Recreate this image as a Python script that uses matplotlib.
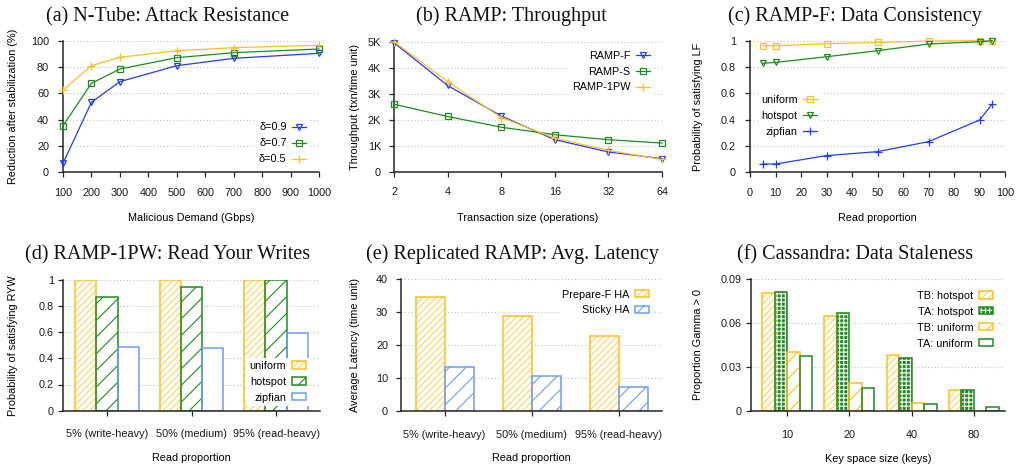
import matplotlib
matplotlib.use("Agg")
import matplotlib.pyplot as plt
from matplotlib.legend_handler import HandlerTuple

plt.rcParams['font.family'] = ['Liberation Sans', 'DejaVu Sans']
plt.rcParams['hatch.linewidth'] = 0.8

W, H = 1022, 468
TITLE_FONT = ['Liberation Serif', 'DejaVu Serif']
FS = 7.8
TFS = 14.5

BLUE = '#1f3cff'
GREEN = '#1e8c1e'
YELLOW = '#ffbf1f'
LYELLOW = '#ffd35c'
LBLUE = '#6f9ef0'
SPINE = '#262626'
GRID = '#c4c4c4'

# ---------------- data ----------------
# (a) N-Tube
a_x = [100, 200, 300, 500, 700, 1000]
a_d09 = [6.8, 53.2, 68.9, 81.0, 86.6, 90.4]
a_d07 = [35.4, 67.6, 78.5, 87.1, 90.9, 93.7]
a_d05 = [62.5, 81.0, 87.4, 92.4, 94.7, 96.5]

# (b) RAMP throughput
b_x = [2, 4, 8, 16, 32, 64]
b_rampf = [4960, 3320, 2150, 1240, 770, 510]
b_ramps = [2600, 2130, 1720, 1430, 1240, 1110]
b_ramp1pw = [5000, 3470, 2090, 1300, 830, 480]

# (c) RAMP-F data consistency
c_x = [5, 10, 30, 50, 70, 90, 95]
c_uniform = [0.962, 0.962, 0.977, 0.987, 0.997, 1.0, 1.0]
c_hotspot = [0.828, 0.835, 0.878, 0.924, 0.975, 0.992, 1.0]
c_zipfian = [0.063, 0.063, 0.127, 0.157, 0.233, 0.397, 0.519]

# (d) RAMP-1PW read your writes
rw_cats = ['5% (write-heavy)', '50% (medium)', '95% (read-heavy)']
d_uniform = [0.995, 0.995, 1.0]
d_hotspot = [0.865, 0.941, 1.0]
d_zipfian = [0.483, 0.478, 0.590]

# (e) Replicated RAMP latency
e_preparef = [34.4, 28.9, 22.8]
e_sticky = [13.4, 10.6, 7.4]

# (f) Cassandra staleness
f_cats = ['10', '20', '40', '80']
f_tb_hot = [0.0807, 0.0645, 0.0383, 0.0140]
f_ta_hot = [0.0809, 0.0665, 0.0360, 0.0140]
f_tb_uni = [0.0399, 0.0189, 0.0057, 0.0]
f_ta_uni = [0.0376, 0.0160, 0.0046, 0.0027]

fig = plt.figure(figsize=(W / 100, H / 100), dpi=100)


def make_ax(box):
    x0, x1, y0, y1 = box
    ax = fig.add_axes([x0 / W, 1 - y1 / H, (x1 - x0) / W, (y1 - y0) / H])
    for s in ('top', 'right'):
        ax.spines[s].set_visible(False)
    for s in ('left', 'bottom'):
        ax.spines[s].set_color(SPINE)
        ax.spines[s].set_linewidth(1.1)
    ax.tick_params(axis='both', which='major', direction='out', length=3.5,
                   width=0.9, color=SPINE, labelsize=FS, labelcolor='#1a1a1a')
    ax.tick_params(which='minor', length=0)
    ax.yaxis.grid(True, linestyle=(0, (1, 2)), color=GRID, linewidth=0.8)
    ax.set_axisbelow(True)
    return ax


def finish(ax, box, xlabel, ylabel, xlab_y, ylab_x, xpad, ypad):
    x0, x1, y0, y1 = box
    ax.tick_params(axis='x', pad=xpad)
    ax.tick_params(axis='y', pad=ypad)
    ax.set_xlabel(xlabel, fontsize=FS, va='center')
    ax.xaxis.set_label_coords(0.5, (y1 - xlab_y) / (y1 - y0))
    ax.set_ylabel(ylabel, fontsize=FS, va='center')
    ax.yaxis.set_label_coords((ylab_x - x0) / (x1 - x0), 0.5)


def title(cx, base, text):
    fig.text(cx / W, 1 - base / H, text, ha='center', va='baseline',
             fontsize=TFS, family=TITLE_FONT, color='#111111')


def legend(ax, handles, labels, loc, anchor, patch=False):
    kw = dict(loc=loc, bbox_to_anchor=anchor, fontsize=FS, frameon=True,
              facecolor='white', edgecolor='none', framealpha=1, fancybox=False,
              borderpad=0.3, handlelength=1.3, handletextpad=0.5,
              labelspacing=0.55, markerfirst=False, borderaxespad=0,
              numpoints=1)
    if patch:
        kw['handleheight'] = 0.65
        kw['handler_map'] = {tuple: HandlerTuple(ndivide=1, pad=0)}
    lg = ax.legend(handles, labels, **kw)
    lg.set_zorder(10)
    return lg


def line(ax, x, y, color, marker, ms, label):
    return ax.plot(x, y, color=color, lw=0.9, marker=marker, ms=ms,
                   mfc='none', mec=color, mew=0.9, clip_on=False,
                   label=label, zorder=3)[0]


def bars(ax, x, h, w, edge, hatch=None, hatchcol=None, face='white'):
    parts = [ax.bar(x, h, w, color=face, edgecolor='none', linewidth=0,
                    zorder=2.0)]
    if hatch:
        parts.append(ax.bar(x, h, w, facecolor='none', edgecolor=hatchcol,
                            hatch=hatch, linewidth=0, zorder=2.1))
    parts.append(ax.bar(x, h, w, facecolor='none', edgecolor=edge,
                        linewidth=1.1, zorder=2.2))
    return tuple(parts)


# ---------------- (a) ----------------
box = (63, 319, 40.7, 172.3)
ax = make_ax(box)
h1 = line(ax, a_x, a_d09, BLUE, 'v', 5, 'δ=0.9')
h2 = line(ax, a_x, a_d07, GREEN, 's', 5, 'δ=0.7')
h3 = line(ax, a_x, a_d05, YELLOW, '+', 6, 'δ=0.5')
ax.set_xlim(100, 1000)
ax.set_ylim(0, 100)
ax.set_xticks(range(100, 1001, 100))
ax.set_yticks(range(0, 101, 20))
finish(ax, box, 'Malicious Demand (Gbps)', 'Reduction after stabilization (%)',
       218, 13, 7.5, 6.5)
legend(ax, [h1, h2, h3], ['δ=0.9', 'δ=0.7', 'δ=0.5'], 'lower right', (0.962, 0.036))
title(167.5, 21, '(a) N-Tube: Attack Resistance')

# ---------------- (b) ----------------
box = (394, 662, 41.7, 172)
ax = make_ax(box)
ax.set_xscale('log', base=2)
h1 = line(ax, b_x, b_rampf, BLUE, 'v', 5, 'RAMP-F')
h2 = line(ax, b_x, b_ramps, GREEN, 's', 5, 'RAMP-S')
h3 = line(ax, b_x, b_ramp1pw, YELLOW, '+', 6, 'RAMP-1PW')
ax.set_xlim(2, 64)
ax.set_ylim(0, 5000)
ax.set_xticks(b_x)
ax.set_xticklabels([str(v) for v in b_x])
ax.set_yticks(range(0, 5001, 1000))
ax.set_yticklabels(['0', '1K', '2K', '3K', '4K', '5K'])
finish(ax, box, 'Transaction size (operations)', 'Throughput (txn/time unit)',
       218, 355, 7.5, 5.8)
legend(ax, [h1, h2, h3], ['RAMP-F', 'RAMP-S', 'RAMP-1PW'], 'upper right', (0.966, 0.957))
title(511.5, 21, '(b) RAMP: Throughput')

# ---------------- (c) ----------------
box = (750, 1005, 40.7, 172.3)
ax = make_ax(box)
h1 = line(ax, c_x, c_uniform, YELLOW, 's', 5, 'uniform')
h2 = line(ax, c_x, c_hotspot, GREEN, 'v', 5, 'hotspot')
h3 = line(ax, c_x, c_zipfian, BLUE, '+', 6, 'zipfian')
ax.set_xlim(0, 100)
ax.set_ylim(0, 1)
ax.set_xticks(range(0, 101, 10))
ax.set_yticks([0, 0.2, 0.4, 0.6, 0.8, 1.0])
ax.set_yticklabels(['0', '0.2', '0.4', '0.6', '0.8', '1'])
finish(ax, box, 'Read proportion', 'Probability of satisfying LF',
       218, 698, 7.5, 6.5)
legend(ax, [h1, h2, h3], ['uniform', 'hotspot', 'zipfian'], 'upper right', (0.275, 0.61))
title(855, 21, '(c) RAMP-F: Data Consistency')

# ---------------- (d) ----------------
box = (63, 320, 279.7, 410.7)
ax = make_ax(box)
gx = list(range(len(rw_cats)))
w = 0.25
p1 = bars(ax, [g - w for g in gx], d_uniform, w, YELLOW, '/////', LYELLOW)
p2 = bars(ax, gx, d_hotspot, w, GREEN, '//', GREEN)
p3 = bars(ax, [g + w for g in gx], d_zipfian, w, LBLUE)
ax.set_xlim(-0.52, 2.52)
ax.set_ylim(0, 1)
ax.set_xticks(gx)
ax.set_xticklabels(rw_cats)
ax.set_yticks([0, 0.2, 0.4, 0.6, 0.8, 1.0])
ax.set_yticklabels(['0', '0.2', '0.4', '0.6', '0.8', '1'])
finish(ax, box, 'Read proportion', 'Probability of satisfying RYW',
       458, 13, 10, 3)
legend(ax, [p1, p2, p3], ['uniform', 'hotspot', 'zipfian'], 'upper right',
       (0.957, 0.406), patch=True)
title(168, 259, '(d) RAMP-1PW: Read Your Writes')

# ---------------- (e) ----------------
box = (401, 662, 279, 411)
ax = make_ax(box)
gx = list(range(len(rw_cats)))
w = 1 / 3
p1 = bars(ax, [g - w / 2 for g in gx], e_preparef, w, YELLOW, '/////', LYELLOW)
p2 = bars(ax, [g + w / 2 for g in gx], e_sticky, w, LBLUE, '//', LBLUE)
ax.set_xlim(-0.5, 2.5)
ax.set_ylim(0, 40)
ax.set_xticks(gx)
ax.set_xticklabels(rw_cats)
ax.set_yticks(range(0, 41, 10))
finish(ax, box, 'Read proportion', 'Average Latency (time unit)',
       458, 355, 10, 5.8)
legend(ax, [p1, p2], ['Prepare-F HA', 'Sticky HA'], 'upper right',
       (0.962, 0.945), patch=True)
title(512, 259, '(e) Replicated RAMP: Avg. Latency')

# ---------------- (f) ----------------
box = (751, 1005, 279, 411)
ax = make_ax(box)
gx = list(range(len(f_cats)))
w = 0.2
p1 = bars(ax, [g - 1.5 * w for g in gx], f_tb_hot, w, YELLOW, '/////', LYELLOW)
p2 = bars(ax, [g - 0.5 * w for g in gx], f_ta_hot, w, GREEN, '++++', 'white', face=GREEN)
p3 = bars(ax, [g + 0.5 * w for g in gx], f_tb_uni, w, YELLOW, '//', YELLOW)
p4 = bars(ax, [g + 1.5 * w for g in gx], f_ta_uni, w, GREEN)
ax.set_xlim(-0.58, 3.5)
ax.set_ylim(0, 0.09)
ax.set_xticks(gx)
ax.set_xticklabels(f_cats)
ax.set_yticks([0, 0.03, 0.06, 0.09])
ax.set_yticklabels(['0', '0.03', '0.06', '0.09'])
finish(ax, box, 'Key space size (keys)', 'Proportion Gamma > 0',
       459, 698, 10, 3)
legend(ax, [p1, p2, p3, p4], ['TB: hotspot', 'TA: hotspot', 'TB: uniform', 'TA: uniform'],
       'upper right', (0.965, 0.936), patch=True)
title(855, 259, '(f) Cassandra: Data Staleness')

fig.savefig('out.png', dpi=100)
